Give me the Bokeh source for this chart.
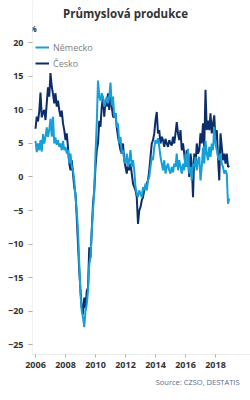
from bokeh.plotting import figure
from bokeh.models import Range1d, FixedTicker, Legend, LegendItem, Label, ColumnDataSource, Title
from bokeh.embed import file_html
from bokeh.resources import INLINE

start_year = 2006
years = list(range(2006, 2019))
ytick_values = [-25, -20, -15, -10, -5, 0, 5, 10, 15, 20]
xtick_values = [2006, 2008, 2010, 2012, 2014, 2016, 2018]

# Industrial production, % y/y, monthly Jan 2006 - Dec 2018
nemecko = [
    5.4, 3.7, 5.0, 4.0, 5.5, 3.8, 6.4, 5.0, 6.0, 7.4, 6.0, 7.0,
    8.7, 6.0, 9.0, 5.0, 5.9, 4.8, 5.5, 4.5, 5.0, 4.0, 5.4, 4.0,
    4.5, 3.5, 4.0, 2.0, 3.5, 1.5, 1.0, -0.5, -3.0, -5.0, -8.0, -13.0,
    -17.5, -20.0, -21.0, -22.4, -20.0, -19.0, -17.0, -13.0, -12.0, -8.0, -5.0, -2.0,
    3.5, 8.0, 14.4, 12.0, 11.4, 12.5, 11.9, 10.5, 11.2, 12.0, 11.0, 12.0,
    14.1, 10.7, 12.0, 8.9, 9.5, 7.4, 8.0, 5.0, 6.0, 3.5, 4.0, 2.5,
    2.0, 3.5, 1.5, 2.5, 4.0, 1.5, 2.5, 1.0, -1.5, -2.5, -3.0, -2.0,
    -2.5, -3.0, -1.5, -2.0, -1.0, -2.0, -0.5, 0.0, 1.5, 3.0, 2.5, 4.4,
    5.5, 5.0, 5.8, 4.5, 3.0, 2.0, 1.0, 2.5, 0.5, 1.5, 2.0, 1.0,
    0.5, 1.5, 0.7, 2.0, 1.5, 3.5, 1.0, 2.5, 1.5, 0.5, 2.0, 1.0,
    3.5, 1.5, 4.2, 0.5, 1.5, -0.5, 2.0, 1.5, 3.0, 1.0, 2.5, 3.0,
    -0.5, 1.5, 4.4, 2.0, 5.4, 3.5, 2.5, 4.5, 3.0, 5.0, 4.0, 7.5,
    5.0, 4.0, 3.0, 2.5, 3.5, 2.0, 1.5, 0.5, 1.0, 0.5, -4.0, -3.2,
]
cesko = [
    7.2, 9.0, 8.3, 9.8, 12.6, 8.9, 9.6, 10.0, 8.5, 11.0, 13.4, 12.0,
    15.5, 13.5, 12.4, 11.0, 12.5, 10.5, 11.4, 10.0, 9.0, 9.9, 8.0, 7.0,
    5.5, 6.5, 4.4, 2.0, 1.0, 2.5, 0.5, -1.5, -2.5, -6.0, -10.0, -14.0,
    -17.0, -19.5, -20.5, -18.0, -19.5, -17.0, -16.5, -10.5, -12.0, -8.0, -4.0, -2.0,
    1.5, 4.0, 5.0, 8.4, 7.5, 10.5, 12.0, 9.0, 11.4, 10.5, 12.5, 10.0,
    12.7, 10.5, 9.0, 8.9, 9.5, 7.4, 6.0, 5.0, 4.0, 3.5, 5.0, 2.5,
    1.5, 0.5, 2.0, 1.0, 2.0, 0.5, -1.0, -1.5, -2.0, -3.0, -7.0, -5.0,
    -4.5, -3.5, -3.0, -2.0, -1.5, -1.0, -0.5, 1.0, 3.0, 5.0, 5.5, 6.5,
    8.5, 9.7, 6.5, 7.0, 5.0, 6.0, 5.5, 4.5, 5.7, 5.0, 4.5, 5.5,
    5.0, 4.7, 6.0, 5.0, 6.5, 8.2, 6.5, 5.5, 7.0, 4.0, 5.0, 3.5,
    1.5, 4.0, 2.5, 0.0, 3.5, 2.0, -3.0, 3.5, 1.5, 5.0, 3.5, 4.0,
    6.5, 5.0, 8.0, 4.4, 13.0, 7.0, 8.4, 7.0, 9.5, 6.5, 8.0, 9.2,
    5.5, 7.0, 3.0, -0.5, 6.5, 4.5, 2.5, 3.5, 2.0, 3.5, 1.5, 1.7,
]

t = [y + m / 12 for y in years for m in range(12)]
src = ColumnDataSource(dict(t=t, de=nemecko, cz=cesko))

C_DE = "#169fd8"
C_CZ = "#0b2d6b"
FONT = "Open Sans"

p = figure(width=250, height=400, output_backend="svg", toolbar_location=None,
           x_range=Range1d(2005.8, 2020.333), y_range=Range1d(-26.49, 26.34),
           min_border_left=32, min_border_right=0, min_border_top=0, min_border_bottom=46)
p.outline_line_color = None
p.xgrid.visible = False
p.ygrid.visible = False
p.background_fill_color = "white"
p.border_fill_color = "white"

r_cz = p.line("t", "cz", source=src, color=C_CZ, line_width=2)
r_de = p.line("t", "de", source=src, color=C_DE, line_width=2)

for ax in (p.xaxis[0], p.yaxis[0]):
    ax.major_label_text_font = FONT
    ax.major_label_text_font_style = "bold"
    ax.major_label_text_font_size = "9px"
    ax.major_label_text_color = "#333333"
    ax.minor_tick_line_color = None
    ax.major_tick_in = 0
    ax.major_tick_line_color = "#b0b0b0"

p.xaxis.ticker = FixedTicker(ticks=xtick_values)
p.xaxis.major_tick_out = 3
p.xaxis.major_label_standoff = 4
p.xaxis.axis_line_color = "#ececec"

p.yaxis.ticker = FixedTicker(ticks=ytick_values)
p.yaxis.major_tick_out = 4
p.yaxis.major_label_standoff = 5
p.yaxis.axis_line_color = "#f2f2f2"

legend = Legend(items=[LegendItem(label="Německo", renderers=[r_de]),
                       LegendItem(label="Česko", renderers=[r_cz])],
                location=(3, 284), border_line_color=None, background_fill_alpha=0,
                glyph_width=14, glyph_height=14, label_height=14, spacing=2, padding=4,
                label_standoff=4, label_text_font=FONT, label_text_font_size="9px",
                label_text_color="#808080")
p.add_layout(legend)

p.add_layout(Label(x=2012.0, y=24.4, text="Průmyslová produkce", text_align="center",
                   text_baseline="middle", text_font=FONT, text_font_style="bold",
                   text_font_size="11.5px", text_color="#333333"))
p.add_layout(Label(x=2005.84, y=22.2, text="%", text_align="center",
                   text_baseline="middle", text_font=FONT, text_font_style="bold",
                   text_font_size="8px", text_color="#333333"))

src_title = Title(text="Source: CZSO, DESTATIS", align="right", text_font=FONT,
                  text_font_size="7.5px", text_font_style="normal", text_color="#5b6a8c",
                  offset=11, standoff=8)
p.add_layout(src_title, "below")

open("out.html", "w").write(file_html(p, INLINE))
